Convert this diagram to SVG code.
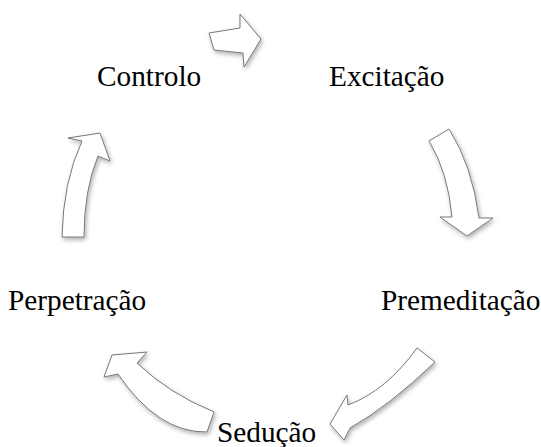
<svg xmlns="http://www.w3.org/2000/svg" width="541" height="447" viewBox="0 0 541 447">
<defs>
<filter id="sh" x="-30%" y="-30%" width="160%" height="160%">
<feDropShadow dx="1.5" dy="2.5" stdDeviation="2" flood-color="#000" flood-opacity="0.3"/>
</filter>
</defs>
<style>
.lbl{font-family:"Liberation Serif","Times New Roman",serif;font-size:29.3px;fill:#000}
.arr{fill:#fff;stroke:#777;stroke-width:1;stroke-linejoin:miter;filter:url(#sh)}
</style>
<rect width="541" height="447" fill="#fff"/>
<g id="connectors">
<path class="arr" d="M209,33 L240,28 L240,14 L261,39 L244,67 L243,53 L214,50 Z"/>
<path class="arr" d="M429,141 Q448,172 452,217 L440,217 L467,236 L493,218 L479,218 Q472,165 449,129 Z"/>
<path class="arr" d="M417,348 Q386,391 348,405 L347,395 L330,424 L344,440 L350,428 Q389,406 435,362 Z"/>
<path class="arr" d="M214,412 Q168,393 137,363 L147,352 L112,355 L104,377 L118,374 Q158,433 207,432 Z"/>
<path class="arr" d="M62,237 Q63,182 82,141 L68,138 L100,133 L110,161 L98,156 Q84,190 84,237 Z"/>
</g>
<g id="node-controlo"><text class="lbl" x="97" y="86">Controlo</text></g>
<g id="node-excitacao"><text class="lbl" x="329" y="86">Excitação</text></g>
<g id="node-premeditacao"><text class="lbl" x="381" y="310">Premeditação</text></g>
<g id="node-seducao"><text class="lbl" x="217" y="442">Sedução</text></g>
<g id="node-perpetracao"><text class="lbl" x="8" y="310">Perpetração</text></g>
</svg>
